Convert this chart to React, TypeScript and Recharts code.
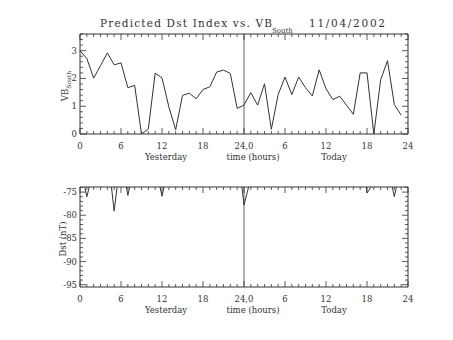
import React from 'react';
import { LineChart, Line, XAxis, YAxis, ReferenceLine, Label } from 'recharts';

// ---------- data ----------
const hours = [
  0, 1, 2, 3, 4, 5, 6, 7, 8, 9, 10, 11, 12, 13, 14, 15, 16, 17, 18, 19, 20, 21, 22, 23,
  24, 25, 26, 27, 28, 29, 30, 31, 32, 33, 34, 35, 36, 37, 38, 39, 40, 41, 42, 43, 44, 45, 46, 47,
];
const vbSouth = [
  3.0, 2.72, 2.01, 2.46, 2.92, 2.49, 2.56, 1.67, 1.75, 0.0, 0.18, 2.19, 2.02, 0.98, 0.15, 1.39,
  1.47, 1.27, 1.6, 1.7, 2.23, 2.3, 2.18, 0.92, 1.04, 1.49, 1.04, 1.81, 0.17, 1.42, 2.05, 1.42,
  2.05, 1.67, 1.37, 2.31, 1.63, 1.24, 1.36, 1.04, 0.71, 2.2, 2.2, 0.0, 1.95, 2.64, 1.06, 0.68,
];
const dst = [
  -69, -76, -70, -66, -66, -79.1, -67, -75.7, -69, -64, -62, -69, -75.9, -69, -63, -60,
  -61, -62, -64, -63, -61, -62, -63, -65, -77.8, -72, -66, -63, -62, -64, -63, -61,
  -62, -63, -64, -65, -63, -62, -64, -65, -66, -62, -75.2, -73, -67, -69, -76, -69,
];

const xTicks = [
  0, 1, 2, 3, 4, 5, 6, 7, 8, 9, 10, 11, 12, 13, 14, 15, 16, 17, 18, 19, 20, 21, 22, 23, 24,
  25, 26, 27, 28, 29, 30, 31, 32, 33, 34, 35, 36, 37, 38, 39, 40, 41, 42, 43, 44, 45, 46, 47, 48,
];
const xMajorTicks = [0, 6, 12, 18, 24, 30, 36, 42, 48];
const xTickLabels = ['0', '6', '12', '18', '24,0', '6', '12', '18', '24'];
const xSubLabels = ['Yesterday', 'time (hours)', 'Today'];

const vbTicks = [
  0, 0.2, 0.4, 0.6, 0.8, 1, 1.2, 1.4, 1.6, 1.8, 2, 2.2, 2.4, 2.6, 2.8, 3, 3.2, 3.4, 3.6,
];
const vbMajorTicks = [0, 1, 2, 3];
const vbTickLabels = ['0', '1', '2', '3'];

const dstTicks = [
  -95, -94, -93, -92, -91, -90, -89, -88, -87, -86, -85, -84, -83, -82, -81, -80, -79, -78,
  -77, -76, -75, -74,
];
const dstMajorTicks = [-95, -90, -85, -80, -75];
const dstTickLabels = ['-95', '-90', '-85', '-80', '-75'];

const titleMain = 'Predicted Dst Index vs. VB';
const titleSub = 'South';
const titleDate = '11/04/2002';

const topData = hours.map((h, i) => ({ h, v: vbSouth[i] }));
const botData = hours.map((h, i) => ({ h, d: dst[i] }));

// ---------- style ----------
const FONT = "'DejaVu Serif', serif";
const INK = '#333';
const FS = 8.5;

function makeXTick(isTop: boolean) {
  return (props: any) => {
    const { x, y, payload } = props;
    const v = payload.value;
    const idx = xMajorTicks.indexOf(v);
    const major = idx >= 0;
    const len = major ? 6 : 3;
    const dir = isTop ? 1 : -1;
    return (
      <g>
        <line x1={x} y1={y} x2={x} y2={y + dir * len} stroke={INK} strokeWidth={0.8} />
        {!isTop && major && (
          <text x={x} y={y + 15} textAnchor="middle" fontFamily={FONT} fontSize={FS} fill={INK}>
            {xTickLabels[idx]}
          </text>
        )}
      </g>
    );
  };
}

function makeYTick(isRight: boolean, majors: number[], labels: string[]) {
  return (props: any) => {
    const { x, y, payload } = props;
    const v = payload.value;
    const idx = majors.findIndex((m) => Math.abs(m - v) < 1e-6);
    const major = idx >= 0;
    const len = major ? 6 : 3;
    const dir = isRight ? -1 : 1;
    return (
      <g>
        <line x1={x} y1={y} x2={x + dir * len} y2={y} stroke={INK} strokeWidth={0.8} />
        {!isRight && major && (
          <text x={x - 3} y={y + 3} textAnchor="end" fontFamily={FONT} fontSize={FS} fill={INK}>
            {labels[idx]}
          </text>
        )}
      </g>
    );
  };
}

const XSubLabel = (props: any) => {
  const vb = props.viewBox;
  const cx = vb.x + vb.width / 2;
  const y = vb.y + 26;
  return (
    <g fontFamily={FONT} fontSize={FS} fill={INK}>
      <text x={cx - 78} y={y} textAnchor="middle">{xSubLabels[0]}</text>
      <text x={cx + 9} y={y} textAnchor="middle">{xSubLabels[1]}</text>
      <text x={cx + 90} y={y} textAnchor="middle">{xSubLabels[2]}</text>
    </g>
  );
};

const VBLabel = (props: any) => {
  const vb = props.viewBox;
  const x = 68;
  const y = vb.y + vb.height / 2 + 2;
  return (
    <text
      transform={`translate(${x},${y}) rotate(-90)`}
      textAnchor="middle"
      fontFamily={FONT}
      fontSize={FS}
      fill={INK}
    >
      VB
      <tspan fontSize={6} dy={3}>South</tspan>
    </text>
  );
};

const DstLabel = (props: any) => {
  const vb = props.viewBox;
  const x = 66;
  const y = vb.y + vb.height / 2 + 2;
  return (
    <text
      transform={`translate(${x},${y}) rotate(-90)`}
      textAnchor="middle"
      fontFamily={FONT}
      fontSize={FS}
      fill={INK}
    >
      Dst (nT)
    </text>
  );
};

function Frame(props: { yDomain: [number, number]; yTicks: number[]; yMajors: number[]; yLabels: string[]; yLabel: any }) {
  const { yDomain, yTicks, yMajors, yLabels, yLabel } = props;
  return null;
}

export default function App() {
  const commonX = {
    dataKey: 'h',
    type: 'number' as const,
    domain: [0, 48],
    ticks: xTicks,
    interval: 0 as const,
    tickSize: 0,
    tickMargin: 0,
    tickLine: false,
    axisLine: { stroke: INK },
  };
  return (
    <div style={{ position: 'absolute', left: 0, top: 0, width: 453, height: 340, background: '#fff' }}>
      <svg width={453} height={40} style={{ position: 'absolute', left: 0, top: 0 }}>
        <g fontFamily={FONT} fill={INK}>
          <text x={100} y={27} fontSize={10.5} textLength={172} lengthAdjust="spacing">
            {titleMain}
          </text>
          <text x={272} y={33} fontSize={7}>
            {titleSub}
          </text>
          <text x={309} y={27} fontSize={10.5} textLength={76} lengthAdjust="spacing">
            {titleDate}
          </text>
        </g>
      </svg>

      <div style={{ position: 'absolute', left: 0, top: 0 }}>
        <LineChart width={453} height={175} data={topData} margin={{ top: 33, right: 44, bottom: 11, left: 0 }}>
          <XAxis {...commonX} height={30} tick={makeXTick(false)}>
            <Label content={<XSubLabel />} />
          </XAxis>
          <XAxis {...commonX} xAxisId="top" orientation="top" height={1} tick={makeXTick(true)} />
          <YAxis
            type="number"
            domain={[0, 3.6]}
            allowDataOverflow
            ticks={vbTicks}
            interval={0}
            width={80}
            tickSize={0}
            tickMargin={0}
            tickLine={false}
            axisLine={{ stroke: INK }}
            tick={makeYTick(false, vbMajorTicks, vbTickLabels)}
          >
            <Label content={<VBLabel />} />
          </YAxis>
          <YAxis
            yAxisId="right"
            orientation="right"
            type="number"
            domain={[0, 3.6]}
            allowDataOverflow
            ticks={vbTicks}
            interval={0}
            width={1}
            tickSize={0}
            tickMargin={0}
            tickLine={false}
            axisLine={{ stroke: INK }}
            tick={makeYTick(true, vbMajorTicks, vbTickLabels)}
          />
          <ReferenceLine x={24} stroke="#666" strokeWidth={1} />
          <Line dataKey="v" type="linear" stroke={INK} strokeWidth={1} dot={false} isAnimationActive={false} />
        </LineChart>
      </div>

      <div style={{ position: 'absolute', left: 0, top: 170 }}>
        <LineChart width={453} height={170} data={botData} margin={{ top: 16, right: 44, bottom: 23, left: 0 }}>
          <XAxis {...commonX} height={30} tick={makeXTick(false)}>
            <Label content={<XSubLabel />} />
          </XAxis>
          <XAxis {...commonX} xAxisId="top" orientation="top" height={1} tick={makeXTick(true)} />
          <YAxis
            type="number"
            domain={[-95.5, -73.9]}
            allowDataOverflow
            ticks={dstTicks}
            interval={0}
            width={80}
            tickSize={0}
            tickMargin={0}
            tickLine={false}
            axisLine={{ stroke: INK }}
            tick={makeYTick(false, dstMajorTicks, dstTickLabels)}
          >
            <Label content={<DstLabel />} />
          </YAxis>
          <YAxis
            yAxisId="right"
            orientation="right"
            type="number"
            domain={[-95.5, -73.9]}
            allowDataOverflow
            ticks={dstTicks}
            interval={0}
            width={1}
            tickSize={0}
            tickMargin={0}
            tickLine={false}
            axisLine={{ stroke: INK }}
            tick={makeYTick(true, dstMajorTicks, dstTickLabels)}
          />
          <ReferenceLine x={24} stroke="#666" strokeWidth={1} />
          <Line dataKey="d" type="linear" stroke={INK} strokeWidth={1} dot={false} isAnimationActive={false} />
        </LineChart>
      </div>
    </div>
  );
}
